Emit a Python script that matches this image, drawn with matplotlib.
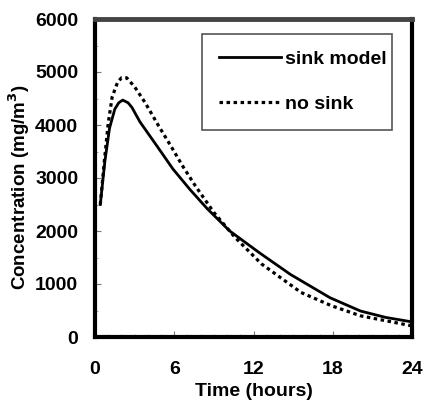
import matplotlib
matplotlib.use("Agg")
import matplotlib.pyplot as plt
from matplotlib.ticker import MultipleLocator

# Data
t_sink = [0.4, 0.75, 1.1, 1.5, 1.8, 2.1, 2.5, 2.8, 3.4, 4.7, 5.9, 7.2, 8.5, 10.2, 12.5, 14.8, 17.8, 20.1, 22.0, 24.0]
c_sink = [2500, 3320, 3940, 4300, 4420, 4470, 4420, 4330, 4060, 3600, 3170, 2780, 2420, 2000, 1580, 1180, 740, 490, 370, 285]

t_nosink = [0.4, 0.7, 1.0, 1.3, 1.7, 2.0, 2.4, 3.0, 3.8, 4.8, 5.8, 6.6, 7.6, 9.0, 10.6, 12.6, 15.6, 17.9, 20.1, 24.0]
c_nosink = [2500, 3300, 4030, 4530, 4800, 4890, 4890, 4720, 4420, 3990, 3580, 3240, 2850, 2350, 1880, 1380, 840, 590, 400, 210]

x_ticks = [0, 6, 12, 18, 24]
y_ticks = [0, 1000, 2000, 3000, 4000, 5000, 6000]

plt.rcParams['font.family'] = ['Liberation Sans', 'DejaVu Sans']
plt.rcParams['font.weight'] = 'bold'

fig = plt.figure(figsize=(4.23, 4.03), dpi=100)
ax = fig.add_axes([95/423, 1-337/403, (412-95)/423, (337-19)/403])

ax.plot(t_sink, c_sink, color='black', lw=2.0, label='sink model')
ax.plot(t_nosink, c_nosink, color='black', lw=2.3, linestyle=(0, (1.1, 1.1)), label='no sink')

ax.set_xlim(0, 24)
ax.set_ylim(0, 6000)
ax.set_xticks(x_ticks)
ax.set_yticks(y_ticks)
ax.xaxis.set_minor_locator(MultipleLocator(1))
ax.yaxis.set_minor_locator(MultipleLocator(500))
ax.tick_params(axis='both', which='major', direction='in', length=4, width=0.8,
               color='#777777', labelsize=14)
ax.tick_params(axis='both', which='minor', direction='in', length=2.5, width=0.6,
               color='#999999')
ax.tick_params(axis='x', which='major', pad=17)
ax.tick_params(axis='y', which='major', pad=12)

for side in ['left', 'bottom', 'right']:
    ax.spines[side].set_linewidth(3.0)
    ax.spines[side].set_color('black')
ax.spines['top'].set_linewidth(3.5)
ax.spines['top'].set_color('#444444')

ax.set_xlabel('Time (hours)', fontsize=14, fontweight='bold')
ax.set_ylabel('Concentration (mg/m$^\\mathbf{3}$)', fontsize=13.5, fontweight='bold')
ax.xaxis.set_label_coords(0.5, -0.145)
ax.yaxis.set_label_coords(-0.199, 0.47)

leg = ax.legend(loc='upper left', bbox_to_anchor=(0.338, 0.954, 0.599, 0.0),
                mode='expand', frameon=True, fancybox=False, framealpha=1,
                edgecolor='#555555', handlelength=3.2,
                labelspacing=1.42, borderpad=0.85, handletextpad=0.2,
                borderaxespad=0.0,
                prop={'weight': 'bold', 'size': 14})
leg.get_frame().set_linewidth(1.2)

fig.savefig('out.png', dpi=100)
